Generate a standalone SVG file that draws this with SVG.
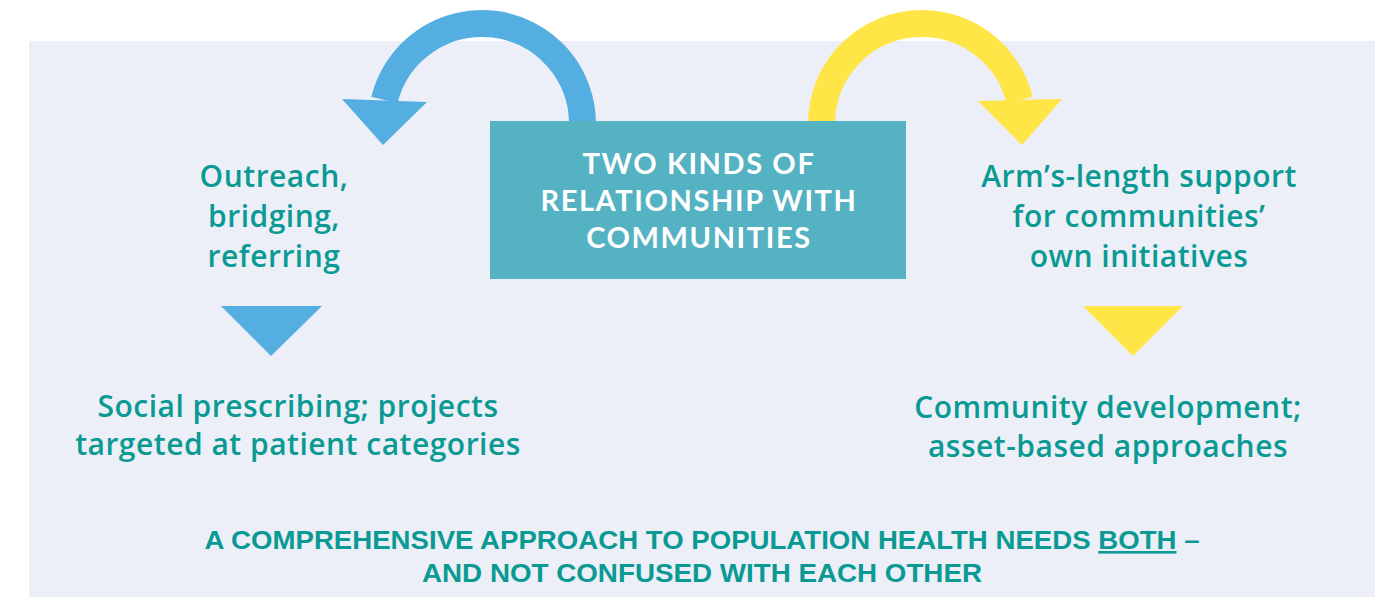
<svg xmlns="http://www.w3.org/2000/svg" width="1382" height="597" viewBox="0 0 1382 597">
  <style>
    .label { font-family: "Open Sans", "Liberation Sans", sans-serif; font-weight: 600; fill: #0A9A93; text-anchor: middle; }
    .side { font-size: 30px; letter-spacing: 0.5px; }
    .title { font-family: Lato, "Liberation Sans", sans-serif; font-weight: 700; fill: #FFFFFF; text-anchor: middle; font-size: 29px; letter-spacing: 1.6px; }
    .foot { font-family: "Liberation Sans", Arial, sans-serif; font-weight: 700; fill: #0A9A93; text-anchor: middle; font-size: 26px; }
    .arc { fill: none; stroke-width: 27; stroke-linecap: butt; }
    .blue { stroke: #55AEE1; }
    .yellow { stroke: #FFE545; }
  </style>

  <!-- page and panel -->
  <rect x="0" y="0" width="1382" height="597" fill="#FFFFFF"/>
  <rect x="29" y="41" width="1346" height="556" fill="#ECEFF8"/>

  <g id="connectors">
    <!-- curved arrow back to the left -->
    <path class="arc blue" d="M 582.5 132 L 582.5 124 A 100.5 100.5 0 0 0 384.4 100"/>
    <polygon points="342,99 427,102 383,145" fill="#55AEE1"/>
    <!-- curved arrow over to the right -->
    <path class="arc yellow" d="M 821.5 132 L 821.5 124 A 100.5 100.5 0 0 1 1019.6 100"/>
    <polygon points="978,101 1062,99 1022,145" fill="#FFE545"/>
    <!-- downward pointers -->
    <polygon points="221,306 322,306 271,356" fill="#55AEE1"/>
    <polygon points="1083,306 1183,306 1133,356" fill="#FFE545"/>
  </g>

  <g id="central">
    <rect x="490" y="121" width="416" height="158" fill="#55B2C3"/>
    <text class="title" x="699" y="174">TWO KINDS OF</text>
    <text class="title" x="699" y="211">RELATIONSHIP WITH</text>
    <text class="title" x="699" y="248">COMMUNITIES</text>
  </g>

  <g id="outreach">
    <text class="label side" x="274" y="187">Outreach,</text>
    <text class="label side" x="274" y="227">bridging,</text>
    <text class="label side" x="274" y="267">referring</text>
  </g>

  <g id="arms-length">
    <text class="label side" x="1139" y="187">Arm’s-length support</text>
    <text class="label side" x="1139" y="227">for communities’</text>
    <text class="label side" x="1139" y="267">own initiatives</text>
  </g>

  <g id="social-prescribing">
    <text class="label side" x="298" y="417">Social prescribing; projects</text>
    <text class="label side" x="298" y="455">targeted at patient categories</text>
  </g>

  <g id="community-development">
    <text class="label side" x="1108" y="418">Community development;</text>
    <text class="label side" x="1108" y="457">asset-based approaches</text>
  </g>

  <g id="conclusion">
    <text class="foot" x="702" y="549" textLength="995" lengthAdjust="spacingAndGlyphs">A COMPREHENSIVE APPROACH TO POPULATION HEALTH NEEDS <tspan text-decoration="underline">BOTH</tspan> –</text>
    <text class="foot" x="702" y="582" textLength="560" lengthAdjust="spacingAndGlyphs">AND NOT CONFUSED WITH EACH OTHER</text>
  </g>
</svg>
